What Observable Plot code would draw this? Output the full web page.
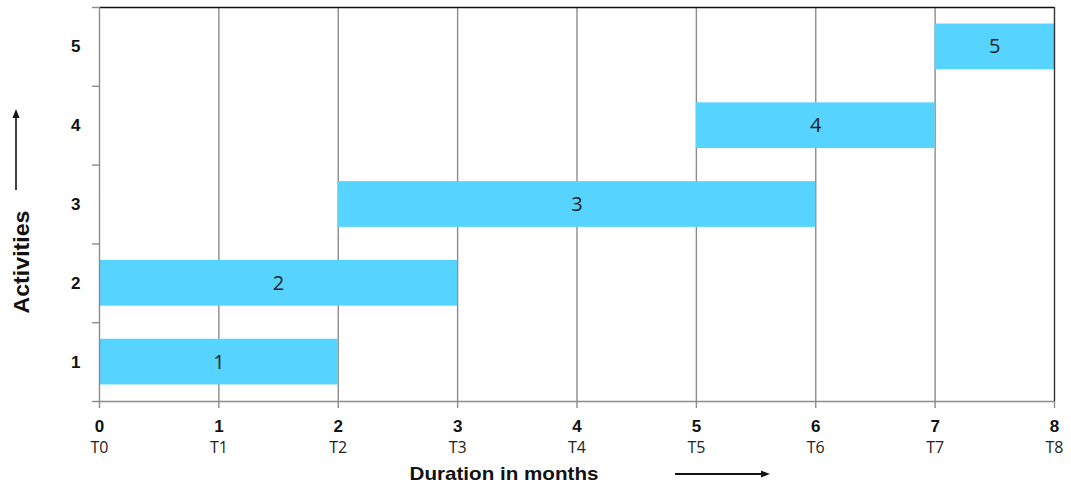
<!DOCTYPE html>
<html>
<head>
<meta charset="utf-8">
<script src="https://cdn.jsdelivr.net/npm/d3@7"></script>
<script src="https://cdn.jsdelivr.net/npm/@observablehq/plot@0.6"></script>
<style>
  html, body { margin: 0; padding: 0; background: #fff; }
  #chart svg { display: block; }
</style>
</head>
<body>
<div id="chart"></div>
<script>
// ---- data ----
const activities = [1, 2, 3, 4, 5];
const starts = [0, 0, 2, 5, 7];
const ends = [2, 3, 6, 7, 8];
const months = [0, 1, 2, 3, 4, 5, 6, 7, 8];
const timeLabels = ["T0", "T1", "T2", "T3", "T4", "T5", "T6", "T7", "T8"];
const bandEdges = [0.5, 1.5, 2.5, 3.5, 4.5, 5.5];

const tasks = activities.map((a, i) => ({activity: a, start: starts[i], end: ends[i]}));

const BAR = "#56D3FF";
const GRID = "#8c8c8c";
const halfBar = 0.29;
const ARIAL = "'Liberation Sans', Arial, sans-serif";
const SEGOE = "'Open Sans', 'Noto Sans', sans-serif";

function decorations() {
  const g = d3.create("svg:g");
  // y-axis title
  g.append("text")
    .attr("transform", "translate(29,262) rotate(-90)")
    .attr("text-anchor", "middle")
    .attr("font-family", ARIAL)
    .attr("font-weight", "bold")
    .attr("font-size", 22)
    .attr("textLength", 103)
    .attr("lengthAdjust", "spacingAndGlyphs")
    .attr("fill", "#111")
    .text("Activities");
  // up arrow
  g.append("line").attr("x1", 16).attr("x2", 16).attr("y1", 190).attr("y2", 116)
    .attr("stroke", "#111").attr("stroke-width", 1.6);
  g.append("path").attr("d", "M16,109 L12.5,118 L19.5,118 Z").attr("fill", "#111");
  // x-axis title
  g.append("text")
    .attr("x", 504).attr("y", 480)
    .attr("text-anchor", "middle")
    .attr("font-family", ARIAL)
    .attr("font-weight", "bold")
    .attr("font-size", 18.5)
    .attr("textLength", 189)
    .attr("lengthAdjust", "spacingAndGlyphs")
    .attr("fill", "#111")
    .text("Duration in months");
  // right arrow
  g.append("line").attr("x1", 675).attr("x2", 763).attr("y1", 474).attr("y2", 474)
    .attr("stroke", "#111").attr("stroke-width", 1.8);
  g.append("path").attr("d", "M770,474 L761,470.5 L761,477.5 Z").attr("fill", "#111");
  return g.node();
}

const chart = Plot.plot({
  width: 1071,
  height: 484,
  marginLeft: 99,
  marginRight: 17,
  marginTop: 7,
  marginBottom: 83,
  style: {background: "#fff", color: "#111"},
  x: {domain: [0, 8]},
  y: {domain: [0.5, 5.5]},
  marks: [
    Plot.ruleX(months.filter(m => m > 0 && m < 8), {stroke: GRID, strokeWidth: 1.4}),
    Plot.rectX(tasks, {
      x1: "start", x2: "end",
      y1: d => d.activity - halfBar, y2: d => d.activity + halfBar,
      fill: BAR
    }),
    Plot.text(tasks, {
      x: d => (d.start + d.end) / 2, y: "activity",
      text: d => String(d.activity),
      fontSize: 20, fill: "#222",
      fontFamily: SEGOE
    }),
    Plot.ruleX([8], {stroke: "#333", strokeWidth: 1.4}),
    Plot.ruleY([5.5], {stroke: "#111", strokeWidth: 1.6}),
    Plot.ruleX([0], {stroke: GRID, strokeWidth: 1.4}),
    Plot.ruleY([0.5], {stroke: GRID, strokeWidth: 1.4}),
    // tick marks
    Plot.axisY(bandEdges, {tickSize: 7, tickFormat: () => "", stroke: GRID, strokeWidth: 1.4, label: null}),
    Plot.axisX(months, {tickSize: 7, tickFormat: () => "", stroke: GRID, strokeWidth: 1.4, label: null}),
    // tick labels
    Plot.text(activities, {
      y: d => d, frameAnchor: "left", textAnchor: "end", dx: -19,
      text: d => String(d),
      fontWeight: "bold", fontSize: 17, fill: "#111", fontFamily: ARIAL
    }),
    Plot.text(months, {
      x: d => d, frameAnchor: "bottom", lineAnchor: "top", dy: 18,
      text: d => String(d),
      fontWeight: "bold", fontSize: 17, fill: "#111", fontFamily: ARIAL
    }),
    Plot.text(months, {
      x: d => d, frameAnchor: "bottom", lineAnchor: "top", dy: 40,
      text: d => timeLabels[d],
      fontSize: 16, fill: "#222", fontFamily: SEGOE
    }),
    decorations
  ]
});

document.getElementById("chart").appendChild(chart);
</script>
</body>
</html>
